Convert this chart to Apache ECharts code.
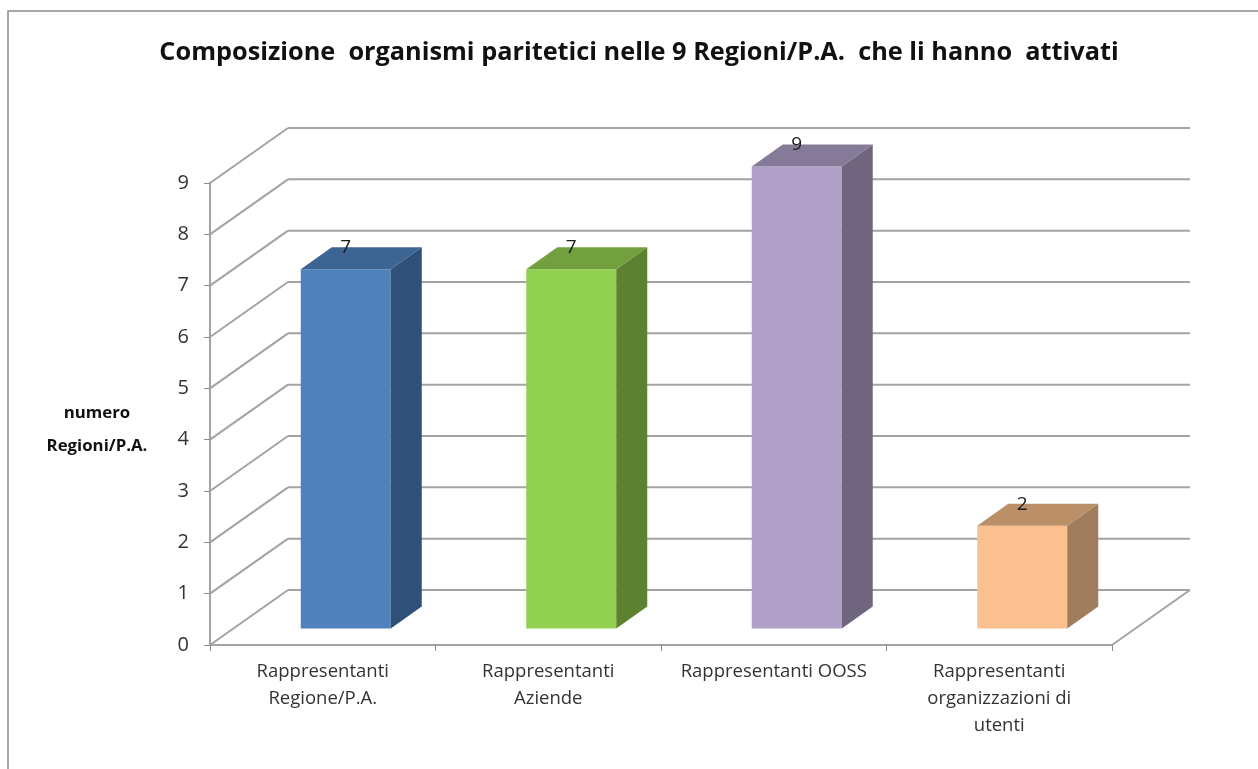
<!DOCTYPE html>
<html><head><meta charset="utf-8">
<style>html,body{margin:0;padding:0;background:#fff}#c{width:1258px;height:769px}</style>
<script src="https://cdn.jsdelivr.net/npm/echarts@6/dist/echarts.min.js"></script>
</head><body><div id="c"></div>
<script>
const categories = ['Rappresentanti\nRegione/P.A.', 'Rappresentanti\nAziende', 'Rappresentanti OOSS', 'Rappresentanti\norganizzazioni di\nutenti'];
const values = [7, 7, 9, 2];
const yTicks = [0, 1, 2, 3, 4, 5, 6, 7, 8, 9];
const chartTitle = 'Composizione  organismi paritetici nelle 9 Regioni/P.A.  che li hanno  attivati';
const yAxisTitle = 'numero\nRegioni/P.A.';
const frontColors = ['#4f81bd', '#92d050', '#b1a0c7', '#fac090'];
const sideColors = ['#2f5078', '#5c8130', '#70657f', '#a07d5c'];
const topColors = ['#3d6593', '#72a03f', '#857a98', '#bb9068'];

const FONT = 'Open Sans';
const GRID_COLOR = '#a3a3a3';
const WALL_DX = 78, WALL_DY = -55;
const BAR_OFF_X = 23, BAR_OFF_Y = -16.5, BAR_W = 90, BAR_DX = 31, BAR_DY = -22;

const chart = echarts.init(document.getElementById('c'), null, {renderer: 'canvas'});
chart.setOption({
  animation: false,
  backgroundColor: '#fff',
  title: {
    text: chartTitle, left: 634, top: 35, textAlign: 'center',
    textStyle: {fontFamily: FONT, fontSize: 25.3, fontWeight: 'bold', color: '#111'}
  },
  grid: {left: 210, right: 146, top: 183, bottom: 124},
  xAxis: {
    type: 'category', data: categories,
    axisLine: {lineStyle: {color: GRID_COLOR, width: 2}},
    axisTick: {show: true, alignWithLabel: false, length: 6, lineStyle: {color: '#8a8a8a', width: 1}},
    axisLabel: {interval: 0, fontFamily: FONT, fontSize: 18.5, lineHeight: 27, color: '#333', margin: 13, verticalAlign: 'top'},
    splitLine: {show: false}
  },
  yAxis: {
    type: 'value', min: 0, max: 9, interval: 1,
    axisLine: {show: true, lineStyle: {color: GRID_COLOR, width: 2}},
    axisTick: {show: true, length: 6, lineStyle: {color: '#8a8a8a', width: 1}},
    axisLabel: {fontFamily: FONT, fontSize: 20, color: '#333', margin: 21},
    splitLine: {show: false}
  },
  graphic: [
    {type: 'polyline', silent: true, shape: {points: [[8, 769], [8, 11], [1258, 11]]},
     style: {stroke: '#8c8c8c', lineWidth: 1.5, fill: null}},
    {type: 'text', x: 97, y: 397, silent: true,
     style: {text: yAxisTitle, fontFamily: FONT, fontSize: 16.8, fontWeight: 'bold', lineHeight: 33, fill: '#111', align: 'center', verticalAlign: 'top'}}
  ],
  series: [
    {
      type: 'custom', coordinateSystem: 'cartesian2d', clip: false, silent: true, z: 1,
      encode: {x: 0, y: 1},
      data: yTicks.map(v => [0, v]),
      renderItem(params, api) {
        const cs = params.coordSys;
        const y = api.coord([0, api.value(1)])[1];
        const x0 = cs.x, x1 = cs.x + cs.width;
        const ls = {stroke: GRID_COLOR, lineWidth: 2, fill: null};
        const children = [
          {type: 'line', shape: {x1: x0, y1: y, x2: x0 + WALL_DX, y2: y + WALL_DY}, style: ls},
          {type: 'line', shape: {x1: x0 + WALL_DX, y1: y + WALL_DY, x2: x1 + WALL_DX, y2: y + WALL_DY}, style: ls}
        ];
        if (api.value(1) === 0) {
          children.push({type: 'line', shape: {x1: x1, y1: y, x2: x1 + WALL_DX, y2: y + WALL_DY}, style: ls});
        }
        return {type: 'group', children};
      }
    },
    {
      type: 'custom', coordinateSystem: 'cartesian2d', clip: false, silent: true, z: 3,
      encode: {x: 0, y: 1},
      data: values.map((v, i) => [i, v]),
      renderItem(params, api) {
        const i = api.value(0), v = api.value(1);
        const base = api.coord([i, 0]), top = api.coord([i, v]);
        const xl = base[0] + BAR_OFF_X - BAR_W / 2, xr = xl + BAR_W;
        const yb = base[1] + BAR_OFF_Y, yt = top[1] + BAR_OFF_Y;
        return {type: 'group', children: [
          {type: 'rect', shape: {x: xl, y: yt, width: BAR_W, height: yb - yt}, style: {fill: frontColors[i]}},
          {type: 'polygon', shape: {points: [[xr, yb], [xr + BAR_DX, yb + BAR_DY], [xr + BAR_DX, yt + BAR_DY], [xr, yt]]}, style: {fill: sideColors[i]}},
          {type: 'polygon', shape: {points: [[xl, yt], [xl + BAR_DX, yt + BAR_DY], [xr + BAR_DX, yt + BAR_DY], [xr, yt]]}, style: {fill: topColors[i]}},
          {type: 'text', z2: 10, style: {text: String(v), x: (xl + xr) / 2, y: yt + BAR_DY + 0.5, align: 'center', verticalAlign: 'middle', fontFamily: FONT, fontSize: 19, fill: '#1a1a1a'}}
        ]};
      }
    }
  ]
});
</script></body></html>
